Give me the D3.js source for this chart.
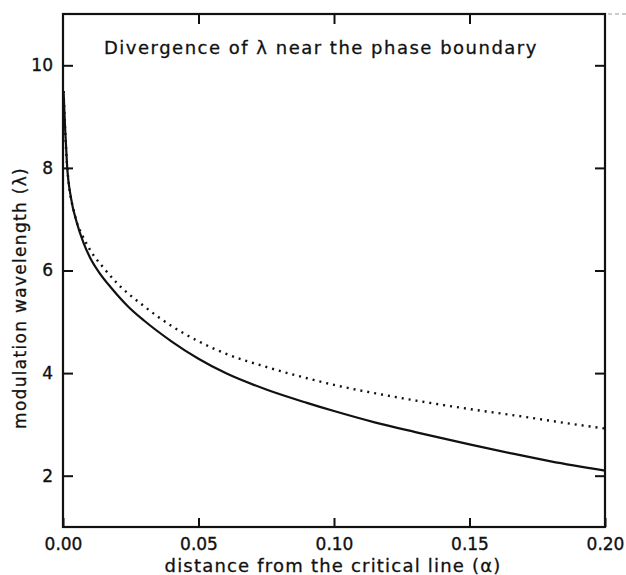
<!DOCTYPE html>
<html>
<head>
<meta charset="utf-8">
<script src="https://cdn.jsdelivr.net/npm/d3@7"></script>
<style>
  body { margin: 0; background: #fff; }
  svg { display: block; }
  .axis text { font-family: "DejaVu Sans", sans-serif; font-size: 17px; fill: #111; stroke: #111; stroke-width: 0.35; }
  .lbl { font-family: "DejaVu Sans", sans-serif; font-size: 18px; fill: #111; stroke: #111; stroke-width: 0.3; }
</style>
</head>
<body>
<svg width="626" height="575"></svg>
<script>
// solid curve (alpha, lambda)
var solidAlpha = [0.0002, 0.0008, 0.0015, 0.003, 0.005, 0.0075, 0.01, 0.0135, 0.018, 0.024, 0.03, 0.04, 0.05, 0.06, 0.075, 0.09, 0.1, 0.115, 0.13, 0.15, 0.165, 0.18, 0.2];
var solidLambda = [9.5, 8.75, 8.05, 7.4, 6.95, 6.55, 6.25, 5.95, 5.65, 5.3, 5.02, 4.62, 4.28, 4.0, 3.68, 3.42, 3.26, 3.04, 2.85, 2.61, 2.44, 2.28, 2.1];
// dotted curve
var dotAlpha = [0.0002, 0.0015, 0.0045, 0.007, 0.01, 0.015, 0.02, 0.03, 0.04, 0.05, 0.06, 0.075, 0.09, 0.1, 0.12, 0.14, 0.15, 0.17, 0.185, 0.2];
var dotLambda = [9.5, 8.05, 7.05, 6.7, 6.4, 6.05, 5.75, 5.3, 4.92, 4.62, 4.38, 4.12, 3.9, 3.77, 3.56, 3.38, 3.3, 3.15, 3.03, 2.92];

var xTicks = [0, 0.05, 0.10, 0.15, 0.20];
var yTicks = [2, 4, 6, 8, 10];

var svg = d3.select("svg"),
    margin = {top: 14, right: 21, bottom: 48, left: 63},
    width = 626 - margin.left - margin.right,
    height = 575 - margin.top - margin.bottom;

var x = d3.scaleLinear().domain([0, 0.2]).range([0, width]),
    y = d3.scaleLinear().domain([1, 11]).range([height, 0]);

var g = svg.append("g")
    .attr("transform", "translate(" + margin.left + "," + margin.top + ")");

// axes, ticks pointing inward
g.append("g")
    .attr("class", "axis")
    .attr("transform", "translate(0," + height + ")")
    .call(d3.axisBottom(x).tickValues(xTicks).tickSizeInner(-9).tickSizeOuter(0).tickPadding(11)
        .tickFormat(d3.format(".2f")));

g.append("g")
    .attr("class", "axis")
    .call(d3.axisLeft(y).tickValues(yTicks).tickSizeInner(-10).tickSizeOuter(0).tickPadding(10));

g.append("g")
    .attr("class", "axis")
    .call(d3.axisTop(x).tickValues([0.05, 0.10, 0.15]).tickSizeInner(-10).tickSizeOuter(0).tickFormat(""));

g.append("g")
    .attr("class", "axis")
    .attr("transform", "translate(" + width + ",0)")
    .call(d3.axisRight(y).tickValues(yTicks).tickSizeInner(-10).tickSizeOuter(0).tickFormat(""));

g.selectAll(".axis .domain").remove();
g.selectAll(".axis line").attr("stroke", "#111").attr("stroke-width", 2);

// frame
g.append("rect")
    .attr("width", width).attr("height", height)
    .attr("fill", "none").attr("stroke", "#111").attr("stroke-width", 2.2);

// scan edge line at top right
svg.append("line")
    .attr("x1", margin.left + width + 3).attr("x2", 626)
    .attr("y1", margin.top).attr("y2", margin.top)
    .attr("stroke", "#999").attr("stroke-width", 1).attr("stroke-dasharray", "4,3");

var line = d3.line()
    .x(function(d) { return x(d[0]); })
    .y(function(d) { return y(d[1]); })
    .curve(d3.curveMonotoneX);

g.append("path")
    .datum(dotAlpha.map(function(a, i) { return [a, dotLambda[i]]; }))
    .attr("d", line)
    .attr("fill", "none").attr("stroke", "#111")
    .attr("stroke-width", 2.4).attr("stroke-dasharray", "2,5");

g.append("path")
    .datum(solidAlpha.map(function(a, i) { return [a, solidLambda[i]]; }))
    .attr("d", line)
    .attr("fill", "none").attr("stroke", "#111").attr("stroke-width", 2.2);

// texts
g.append("text")
    .attr("class", "lbl")
    .attr("x", 41).attr("y", 40)
    .attr("letter-spacing", 1.5)
    .text("Divergence of λ near the phase boundary");

svg.append("text")
    .attr("class", "lbl")
    .attr("x", margin.left + width / 2 - 1).attr("y", 572)
    .attr("text-anchor", "middle")
    .attr("letter-spacing", 1.2)
    .text("distance from the critical line (α)");

svg.append("text")
    .attr("class", "lbl")
    .style("font-size", "17px")
    .attr("transform", "translate(26," + 298 + ") rotate(-90)")
    .attr("text-anchor", "middle")
    .attr("letter-spacing", 1.3)
    .text("modulation wavelength (λ)");
</script>
</body>
</html>
